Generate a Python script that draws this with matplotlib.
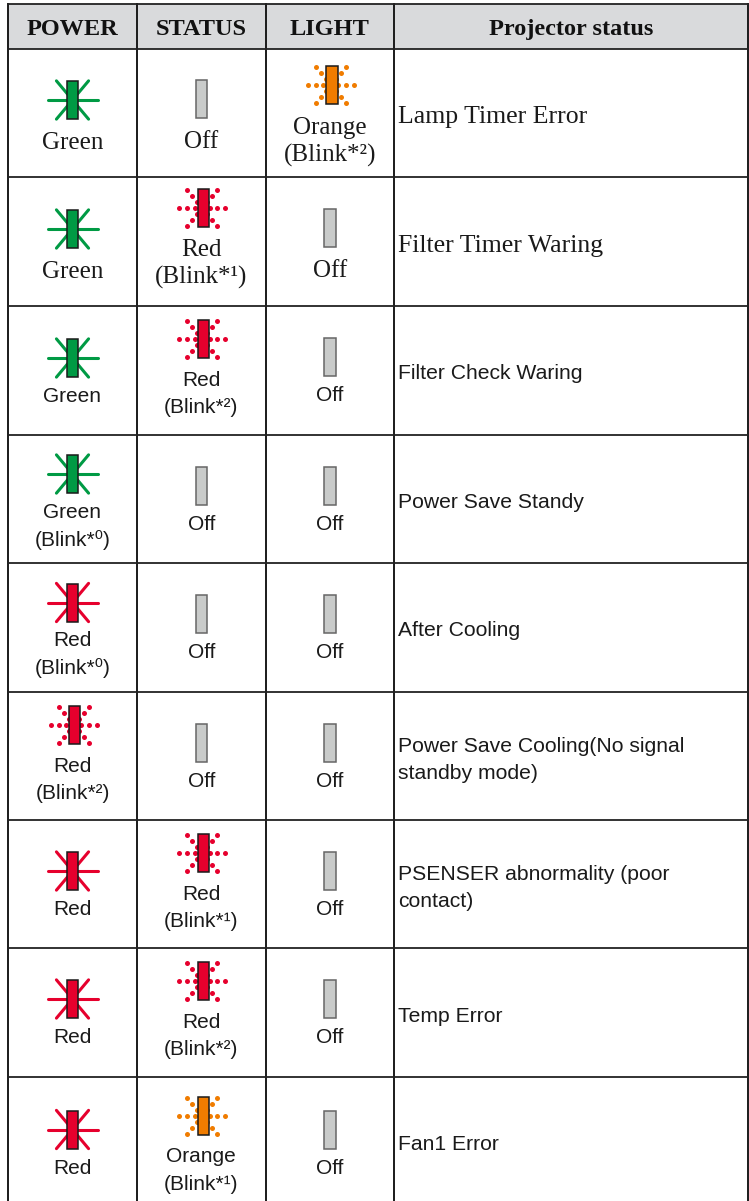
import matplotlib
matplotlib.use('Agg')
import numpy as np
import matplotlib.pyplot as plt
from matplotlib.patches import Rectangle

# table content
headers = ['POWER', 'STATUS', 'LIGHT', 'Projector status']
power_color = ['green', 'green', 'green', 'green', 'red', 'red', 'red', 'red', 'red']
power_mode = ['on', 'on', 'on', 'on', 'on', 'dots', 'on', 'on', 'on']
power_text = ['Green', 'Green', 'Green', 'Green\n(Blink*⁰)', 'Red\n(Blink*⁰)', 'Red\n(Blink*²)', 'Red', 'Red', 'Red']
status_color = ['off', 'red', 'red', 'off', 'off', 'off', 'red', 'red', 'orange']
status_text = ['Off', 'Red\n(Blink*¹)', 'Red\n(Blink*²)', 'Off', 'Off', 'Off', 'Red\n(Blink*¹)', 'Red\n(Blink*²)', 'Orange\n(Blink*¹)']
light_color = ['orange', 'off', 'off', 'off', 'off', 'off', 'off', 'off', 'off']
light_text = ['Orange\n(Blink*²)', 'Off', 'Off', 'Off', 'Off', 'Off', 'Off', 'Off', 'Off']
projector = ['Lamp Timer Error', 'Filter Timer Waring', 'Filter Check Waring', 'Power Save Standy',
             'After Cooling', 'Power Save Cooling(No signal\nstandby mode)',
             'PSENSER abnormality (poor\ncontact)', 'Temp Error', 'Fan1 Error']
serif_rows = [0, 1]

colors = {'green': '#009a44', 'red': '#e6002d', 'orange': '#f07c00', 'off': '#c9cbca'}

# layout, in pixels of the page
col_x = [8, 137, 265.7, 394, 747.7]
row_y = [4, 48.5, 177, 306, 434.5, 563, 691.7, 820, 948, 1077, 1205.5]
power_led_y = [100, 229, 358, 474, 602.5, 725, 871, 999, 1129.5]
status_led_y = [99, 207.5, 339, 486, 614, 743, 853, 981, 1116]
light_led_y = [85, 228, 357, 486, 614, 743, 871, 999, 1129.5]
led_y = [power_led_y, status_led_y, light_led_y]

fig = plt.figure(figsize=(7.49, 12.01), dpi=100)
ax = fig.add_axes([0, 0, 1, 1])
ax.set_xlim(0, 749)
ax.set_ylim(1201, 0)
ax.axis('off')


def draw_led(cx, cy, color, mode):
    w, h = 11.5, 38
    if mode == 'on':
        for ang in [0, 50, 130, 180, 230, 310]:
            a = np.deg2rad(ang)
            ax.plot([cx, cx + 25 * np.cos(a)], [cy, cy + 25 * np.sin(a)],
                    color=colors[color], lw=2.2, solid_capstyle='round', zorder=2)
    elif mode == 'dots':
        cx = cx + 2
        for sx in (-1, 1):
            for d in (7.5, 15, 23):
                ax.plot(cx - 1 + sx * d, cy, 'o', color=colors[color], ms=3.6, mew=0, zorder=2)
            for sy in (-1, 1):
                for k in (1, 2, 3):
                    ax.plot(cx - 1 + sx * 5 * k, cy + sy * 6 * k, 'o', color=colors[color],
                            ms=3.6, mew=0, zorder=2)
    edge = '#666666' if color == 'off' else '#1a1a1a'
    ax.add_patch(Rectangle((cx - w / 2, cy - h / 2), w, h, fc=colors[color], ec=edge, lw=1.1, zorder=3))


def draw_cell(col, row, color, mode, text):
    cx = (col_x[col] + col_x[col + 1]) / 2
    cy = led_y[col][row]
    draw_led(cx, cy, color, mode)
    if row in serif_rows:
        font, size, y = 'Liberation Serif', 18, cy + 49
    else:
        font, size, y = 'Liberation Sans', 15, cy + (46.5 if mode == 'dots' else 44)
    for line in text.split('\n'):
        ax.text(cx, y, line, ha='center', va='baseline', fontsize=size, color='#1a1a1a',
                family=[font, 'DejaVu Sans'], zorder=4)
        y += 27.5


# header band
ax.add_patch(Rectangle((col_x[0], row_y[0]), col_x[-1] - col_x[0], row_y[1] - row_y[0], fc='#d9dadc', ec='none', zorder=0))
for i, name in enumerate(headers):
    ax.text((col_x[i] + col_x[i + 1]) / 2, 35, name, ha='center', va='baseline', fontsize=17.5,
            fontweight='bold', family='Liberation Serif', color='#111111')

for r in range(len(projector)):
    draw_cell(0, r, power_color[r], power_mode[r], power_text[r])
    draw_cell(1, r, status_color[r], 'off' if status_color[r] == 'off' else 'dots', status_text[r])
    draw_cell(2, r, light_color[r], 'off' if light_color[r] == 'off' else 'dots', light_text[r])

    mid = (row_y[r + 1] + row_y[r + 2]) / 2
    lines = projector[r].split('\n')
    if r in serif_rows:
        font, size, y = 'Liberation Serif', 18.5, mid + 10.5
    elif len(lines) == 1:
        font, size, y = 'Liberation Sans', 15.2, mid + 9
    else:
        font, size, y = 'Liberation Sans', 15.2, mid - 4
    for line in lines:
        ax.text(col_x[3] + 4, y, line, ha='left', va='baseline', fontsize=size, family=font, color='#1a1a1a')
        y += 26.8

# grid lines
for x in col_x:
    ax.plot([x, x], [row_y[0], 1201], color='#1a1a1a', lw=1.4, zorder=5)
for y in row_y[:-1]:
    ax.plot([col_x[0], col_x[-1]], [y, y], color='#222222', lw=1.3, zorder=5)

fig.savefig('out.png', dpi=100)
